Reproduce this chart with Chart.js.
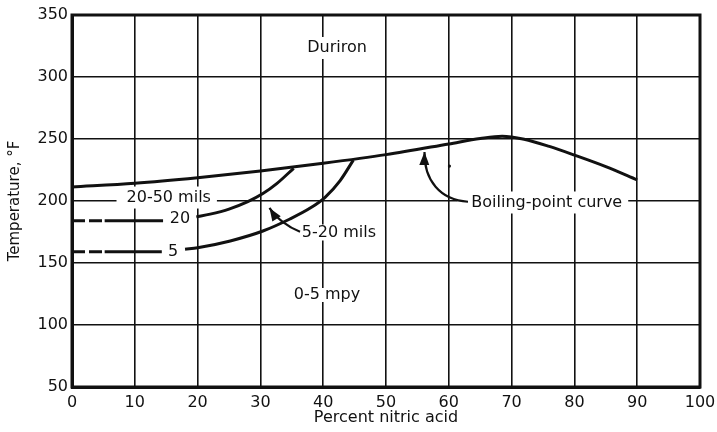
<!DOCTYPE html>
<html lang="en">
<head>
  <meta charset="UTF-8" />
  <title>Duriron in nitric acid</title>
  <script src="https://cdn.jsdelivr.net/npm/chart.js"></script>
  <style>
    body { margin: 0; background: #fff; }
    #wrap { width: 717px; height: 432px; }
  </style>
</head>
<body>
  <div id="wrap">
    <canvas id="chart" width="717" height="432"></canvas>
  </div>

  <script>
    // percent nitric acid vs temperature (F)
    const boilPct  = [0, 10, 20, 30, 40, 50, 60, 65, 68.5, 72, 76, 80, 85, 90];
    const boilTemp = [211.3, 214.3, 218.8, 224.2, 230.4, 237.4, 246, 250.4, 252.3, 249.8, 244, 237, 227.7, 217];

    // 20 mils line: dashed then solid stub, then the curve up to the boiling line
    const flat20Pct  = [0, 5.2, 14.5];
    const flat20Temp = [184, 184, 184];
    const curve20Pct  = [19.8, 22, 25, 28, 30.4, 32.6, 35.3];
    const curve20Temp = [187.2, 189.4, 193.5, 199.5, 206, 214, 226.4];

    // 5 mils line
    const flat5Pct  = [0, 5.2, 14.3];
    const flat5Temp = [159, 159, 159];
    const curve5Pct  = [18, 20, 25.2, 30.4, 34.7, 38, 40.3, 42.7, 44.8];
    const curve5Temp = [161, 162.3, 167.8, 175.8, 185.5, 194.5, 203, 216.5, 233];

    const speckPct = [60.1];
    const speckTemp = [228.2];

    const xTicks = [0, 10, 20, 30, 40, 50, 60, 70, 80, 90, 100];
    const yTicks = [50, 100, 150, 200, 250, 300, 350];

    const pts = (xs, ys) => xs.map((x, i) => ({ x: x, y: ys[i] }));

    // text labels on the plot (data coords) and the two arrows
    const notes = [
      { text: 'Duriron', x: 42.2, y: 323.4, box: true },
      { text: '20-50 mils', x: 15.4, y: 202.8, box: true, padL: 10 },
      { text: '20', x: 17.2, y: 185.5 },
      { text: '5', x: 16.1, y: 159.1 },
      { text: '5-20 mils', x: 42.5, y: 174.6, box: true, padY: 8 },
      { text: '0-5 mpy', x: 40.6, y: 124.2, box: true, padY: 7 },
      { text: 'Boiling-point curve', x: 75.6, y: 198.8, box: true, padL: 14 }
    ];
    const arrows = [
      [[36.31, 175.2], [34.39, 179.0], [32.48, 186.3], [31.45, 194.4]],
      [[63.06, 199.4], [58.6, 200.8], [56.05, 216.9], [56.13, 239.5]]
    ];

    const FONT = '"DejaVu Sans", sans-serif';
    const INK = '#111';

    const frame = {
      id: 'frame',
      beforeDatasetsDraw(chart) {
        const { ctx, chartArea: a, scales: { x, y } } = chart;
        ctx.save();
        ctx.lineWidth = 3;
        ctx.strokeStyle = INK;
        ctx.strokeRect(a.left, a.top, a.right - a.left, a.bottom - a.top);
        // white patches where the labels cut the grid
        ctx.font = '16px ' + FONT;
        ctx.fillStyle = '#fff';
        notes.filter(n => n.box).forEach(n => {
          const w = ctx.measureText(n.text).width;
          const cx = x.getPixelForValue(n.x), cy = y.getPixelForValue(n.y);
          const pl = n.padL || 6, py = n.padY || 11;
          ctx.fillRect(cx - w / 2 - pl, cy - py, w + pl + 6, py * 2);
        });
        ctx.restore();
      },
      afterDatasetsDraw(chart) {
        const { ctx, scales: { x, y } } = chart;
        ctx.save();
        ctx.font = '16px ' + FONT;
        ctx.fillStyle = INK;
        ctx.textAlign = 'center';
        ctx.textBaseline = 'middle';
        notes.forEach(n => ctx.fillText(n.text, x.getPixelForValue(n.x), y.getPixelForValue(n.y)));

        ctx.strokeStyle = INK;
        ctx.lineWidth = 2.2;
        arrows.forEach(a => {
          const p = a.map(q => [x.getPixelForValue(q[0]), y.getPixelForValue(q[1])]);
          ctx.beginPath();
          ctx.moveTo(p[0][0], p[0][1]);
          ctx.bezierCurveTo(p[1][0], p[1][1], p[2][0], p[2][1], p[3][0], p[3][1]);
          ctx.stroke();
          const ang = Math.atan2(p[3][1] - p[2][1], p[3][0] - p[2][0]);
          const L = 13, W = 5;
          const bx = p[3][0] - L * Math.cos(ang), by = p[3][1] - L * Math.sin(ang);
          ctx.beginPath();
          ctx.moveTo(p[3][0], p[3][1]);
          ctx.lineTo(bx + W * Math.sin(ang), by - W * Math.cos(ang));
          ctx.lineTo(bx - W * Math.sin(ang), by + W * Math.cos(ang));
          ctx.closePath();
          ctx.fill();
        });
        ctx.restore();
      }
    };

    const curve = (data, extra) => Object.assign({
      data: data,
      showLine: true,
      borderColor: INK,
      borderWidth: 3,
      pointRadius: 0,
      cubicInterpolationMode: 'monotone',
      fill: false
    }, extra || {});

    const dashFirst = { borderDash: c => c.p0DataIndex === 0 ? [13, 4] : undefined };

    new Chart(document.getElementById('chart'), {
      type: 'scatter',
      data: {
        datasets: [
          curve(pts(boilPct, boilTemp)),
          curve(pts(flat20Pct, flat20Temp), { cubicInterpolationMode: 'default', tension: 0, segment: dashFirst }),
          curve(pts(curve20Pct, curve20Temp)),
          curve(pts(flat5Pct, flat5Temp), { cubicInterpolationMode: 'default', tension: 0, segment: dashFirst }),
          curve(pts(curve5Pct, curve5Temp)),
          { data: pts(speckPct, speckTemp), pointRadius: 1.6, backgroundColor: INK, borderWidth: 0 }
        ]
      },
      options: {
        responsive: false,
        animation: false,
        layout: { padding: { top: 15, right: 17, left: 0, bottom: 0 } },
        plugins: { legend: { display: false }, tooltip: { enabled: false } },
        scales: {
          x: {
            type: 'linear',
            min: 0, max: 100,
            afterFit: s => { s.height = 45; s.paddingLeft = 0; s.paddingRight = 0; },
            afterBuildTicks: s => { s.ticks = xTicks.map(v => ({ value: v })); },
            ticks: { color: INK, font: { family: FONT, size: 16 }, padding: 6, maxRotation: 0 },
            grid: { color: INK, lineWidth: 1.6, drawTicks: false },
            border: { color: INK, width: 3 },
            title: { display: true, text: 'Percent nitric acid', color: INK, font: { family: FONT, size: 16 }, padding: { top: 0, bottom: 5 } }
          },
          y: {
            min: 50, max: 350,
            afterFit: s => { s.width = 72; s.paddingTop = 0; s.paddingBottom = 0; },
            afterBuildTicks: s => { s.ticks = yTicks.map(v => ({ value: v })); },
            ticks: { color: INK, font: { family: FONT, size: 16 }, padding: 4 },
            grid: { color: INK, lineWidth: 1.6, drawTicks: false },
            border: { color: INK, width: 3 },
            title: { display: true, text: 'Temperature, °F', color: INK, font: { family: FONT, size: 15 }, padding: { top: 6, bottom: 0 } }
          }
        }
      },
      plugins: [frame]
    });
  </script>
</body>
</html>
